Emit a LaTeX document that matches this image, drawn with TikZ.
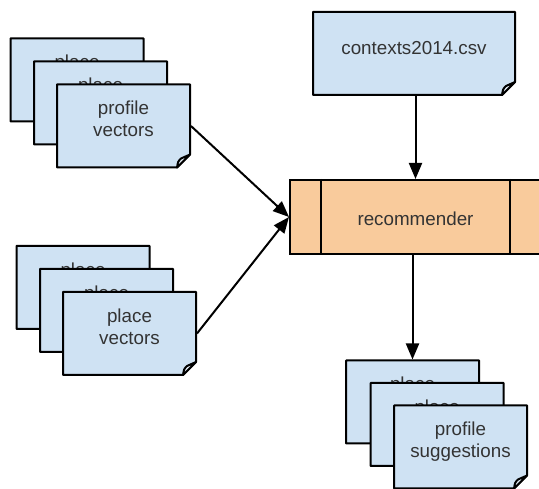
\documentclass[tikz,border=0pt]{standalone}
\usepackage{fontspec}
\setmainfont{Liberation Sans}
\usetikzlibrary{arrows.meta}
\definecolor{docblue}{HTML}{CFE2F3}
\definecolor{procorange}{HTML}{F9CB9C}
\definecolor{txtgray}{HTML}{333333}
\tikzset{
  sheetbox/.style={draw=none, inner sep=0pt, outer sep=1pt, minimum width=133pt, minimum height=83pt},
  sheetline/.style={draw=black, line width=2pt, fill=docblue, line join=round},
  flapline/.style={draw=black, line width=2pt, fill=docblue!50!white, line join=round},
  txt/.style={text=txtgray, font=\fontsize{18.8}{22}\selectfont, align=center, inner sep=0pt},
  procbox/.style={draw=black, line width=2pt, fill=procorange, inner sep=0pt, minimum width=251pt, minimum height=74pt},
  conn/.style={draw=black, line width=2pt, -{Triangle[length=16pt,width=13pt]}},
}
% #1 name, #2 centre, #3 width, #4 height, #5 text, #6 text shift
\newcommand\docsheet[6]{%
  \node[sheetbox, minimum width=#3pt, minimum height=#4pt] (#1) at (#2) {};
  \path[sheetline] ([shift={(1pt,-1pt)}]#1.north west) -- ([shift={(-1pt,-1pt)}]#1.north east)
     -- ([shift={(-1pt,14pt)}]#1.south east) -- ([shift={(-14pt,1pt)}]#1.south east)
     -- ([shift={(1pt,1pt)}]#1.south west) -- cycle;
  \path[flapline] ([shift={(-14pt,1pt)}]#1.south east)
     .. controls ([shift={(-13pt,7pt)}]#1.south east) .. ([shift={(-10pt,10pt)}]#1.south east)
     -- ([shift={(-1pt,14pt)}]#1.south east) -- cycle;
  \node[txt] (#1-t) at ([yshift=#6pt]#1.center) {#5};
}
\begin{document}
\begin{tikzpicture}[x=1pt,y=-1pt]
  \useasboundingbox (0,0) rectangle (539,489);
  \clip (0,0) rectangle (539,489);
  % profile vectors stack
  \docsheet{pv1}{77,80}{133}{83}{\strut place}{15.4}
  \docsheet{pv2}{100.5,103}{133}{83}{\strut place}{15.4}
  \docsheet{pv3}{123.5,126}{133}{83}{\strut profile\\\strut vectors}{4.4}
  % place vectors stack
  \docsheet{pl1}{83,287.5}{133}{83}{\strut place}{15.4}
  \docsheet{pl2}{106.5,310.5}{133}{83}{\strut place}{15.4}
  \docsheet{pl3}{129.5,333.5}{133}{83}{\strut place\\\strut vectors}{4.4}
  % contexts file
  \docsheet{ctx}{414,53.5}{202}{83}{\strut contexts2014.csv}{2.9}
  % recommender
  \node[procbox] (rec) at (415.5,217) {};
  \draw[line width=2pt] ([xshift=32pt]rec.north west) -- ([xshift=32pt]rec.south west);
  \draw[line width=2pt] ([xshift=-32pt]rec.north east) -- ([xshift=-32pt]rec.south east);
  \node[txt] (rec-t) at ([yshift=-4.6pt]rec.center) {\strut recommender};
  % profile suggestions stack
  \docsheet{ps1}{412.5,402}{133}{83}{\strut place}{15.4}
  \docsheet{ps2}{437,424.5}{133}{83}{\strut place}{15.4}
  \docsheet{ps3}{460.5,447}{133}{83}{\strut profile\\\strut suggestions}{4.4}
  % connectors
  \draw[conn] (pv3.east) -- (rec.west);
  \draw[conn] (pl3.east) -- (rec.west);
  \draw[conn] (ctx.south -| rec-t) -- (rec.north -| rec-t);
  \draw[conn] (rec.south -| ps1.north) -- (ps1.north);
\end{tikzpicture}
\end{document}
